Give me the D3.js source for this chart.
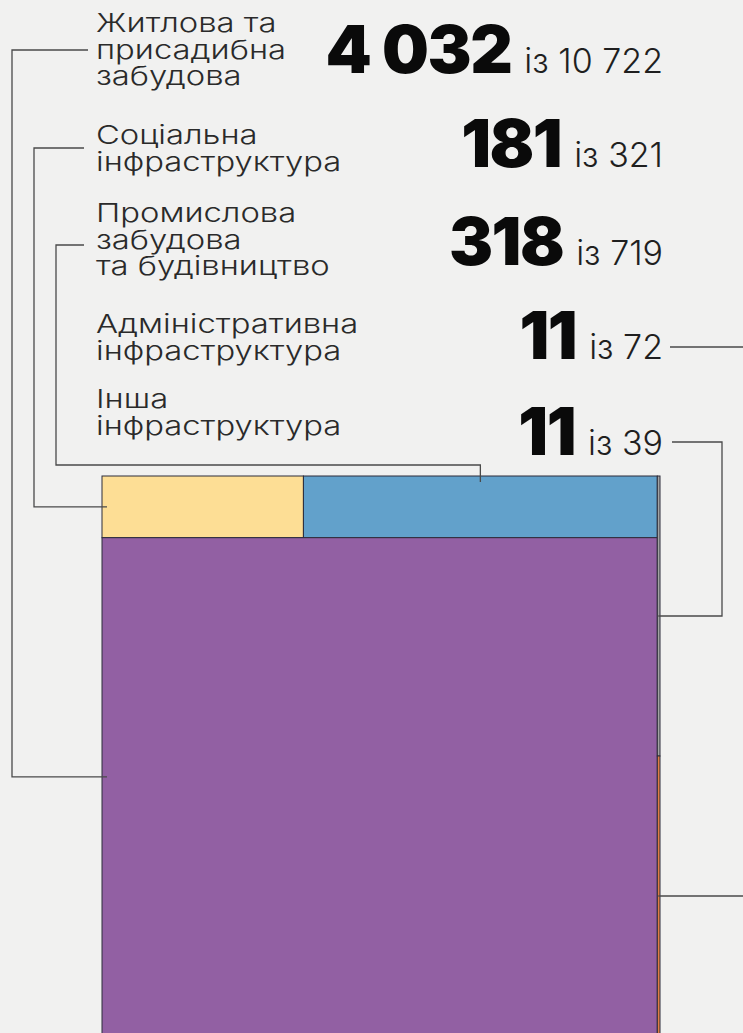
<!DOCTYPE html>
<html>
<head>
<meta charset="utf-8">
<script src="https://cdn.jsdelivr.net/npm/d3@7"></script>
<style>
  html, body { margin: 0; padding: 0; background: #f1f1f0; overflow: hidden; }
  .lbl { font-family: Inter, "Noto Sans", sans-serif; font-weight: 300; fill: #2a2a2a; }
  .big { font-family: Inter, Lato, "Noto Sans", sans-serif; font-weight: 900; fill: #0a0a0a; }
  .of  { font-family: Inter, "Noto Sans", sans-serif; font-weight: 300; fill: #1f1f1f; }
</style>
</head>
<body>
<svg id="chart" width="743" height="1033"></svg>
<script>
// categories (order of the rows at the top)
var keys      = ["housing", "social", "industrial", "admin", "other"];
var labels    = [["Житлова та", "присадибна", "забудова"],
                 ["Соціальна", "інфраструктура"],
                 ["Промислова", "забудова", "та будівництво"],
                 ["Адміністративна", "інфраструктура"],
                 ["Інша", "інфраструктура"]];
var destroyed = [4032, 181, 318, 11, 11];
var totals    = [10722, 321, 719, 72, 39];
var colors    = ["#9260a3", "#fdde95", "#62a1cb", "#de7c45", "#a3a3a3"];

var svg = d3.select("#chart");

var fmt = d3.formatLocale({decimal: ",", thousands: " ", grouping: [3], currency: ["", ""]}).format(",d");

var byKey = {};
keys.forEach(function(k, i){ byKey[k] = {name: k, value: destroyed[i], color: colors[i]}; });

// treemap structure: big block + thin strip on the right
var tree = {name: "root", children: [
  {name: "main", children: [
    {name: "top", children: [byKey.social, byKey.industrial]},
    byKey.housing
  ]},
  {name: "strip", children: [byKey.other, byKey.admin]}
]};

var box = {x: 102, y: 476, w: 558, h: 560};

function tile(node, x0, y0, x1, y1){
  if (node.depth === 0 || node.data.name === "top") d3.treemapDice(node, x0, y0, x1, y1);
  else d3.treemapSlice(node, x0, y0, x1, y1);
}

var root = d3.hierarchy(tree).sum(function(d){ return d.children ? 0 : d.value; });
d3.treemap().size([box.w, box.h]).tile(tile).round(false)(root);

var leaves = {};
root.leaves().forEach(function(l){ leaves[l.data.name] = l; });

var g = svg.append("g").attr("transform", "translate(" + box.x + "," + box.y + ")");
g.selectAll("rect.cell")
  .data(root.leaves())
  .enter().append("rect")
  .attr("class", "cell")
  .attr("x", function(d){ return d.x0; })
  .attr("y", function(d){ return d.y0; })
  .attr("width", function(d){ return d.x1 - d.x0; })
  .attr("height", function(d){ return d.y1 - d.y0; })
  .attr("fill", function(d){ return d.data.color; })
  .attr("stroke", "#2c2c3a")
  .attr("stroke-width", 1);

// text rows
var labelX = 96, lineH = 26.5, rightX = 663, stretch = 1.26;
var firstBase = [32, 144, 222, 333, 408];
var numBase   = [73, 167, 265, 359, 455];

keys.forEach(function(k, i){
  var t = svg.append("text").attr("class", "lbl").style("font-size", "26px");
  labels[i].forEach(function(s, j){
    var ts = t.append("tspan").attr("x", labelX).attr("y", firstBase[i] + j * lineH).text(s);
    // the original face is a wide geometric one, so widen the glyphs
    var w = ts.node().getComputedTextLength();
    ts.attr("textLength", w * stretch).attr("lengthAdjust", "spacingAndGlyphs");
  });

  var small = svg.append("text").attr("class", "of")
    .attr("x", rightX).attr("y", numBase[i])
    .attr("text-anchor", "end")
    .style("font-size", "34px")
    .text("із " + fmt(totals[i]));
  var sw = small.node().getComputedTextLength();
  svg.append("text").attr("class", "big")
    .attr("x", rightX - sw - 13).attr("y", numBase[i])
    .attr("text-anchor", "end")
    .style("font-size", "66px")
    .style("letter-spacing", "-1.5px")
    .text(fmt(destroyed[i]));
});

// leader lines to the cell centres
function cx(n){ return box.x + (n.x0 + n.x1) / 2; }
function cy(n){ return box.y + (n.y0 + n.y1) / 2; }
function left(n){ return box.x + n.x0; }

var line = d3.line();
var paths = [
  [[88, 50], [12, 50], [12, cy(leaves.housing) - 10], [left(leaves.housing) + 5, cy(leaves.housing) - 10]],
  [[84, 148], [34, 148], [34, cy(leaves.social)], [left(leaves.social) + 5, cy(leaves.social)]],
  [[84, 245], [56, 245], [56, box.y - 11], [cx(leaves.industrial), box.y - 11], [cx(leaves.industrial), box.y + 6]],
  [[670, 347], [760, 347], [760, cy(leaves.admin)], [left(leaves.admin) + 1, cy(leaves.admin)]],
  [[672, 442], [722, 442], [722, cy(leaves.other)], [left(leaves.other) + 1, cy(leaves.other)]]
];
svg.selectAll("path.lead")
  .data(paths)
  .enter().append("path")
  .attr("class", "lead")
  .attr("d", line)
  .attr("fill", "none")
  .attr("stroke", "#4a4a4a")
  .attr("stroke-width", 1.3);
</script>
</body>
</html>
